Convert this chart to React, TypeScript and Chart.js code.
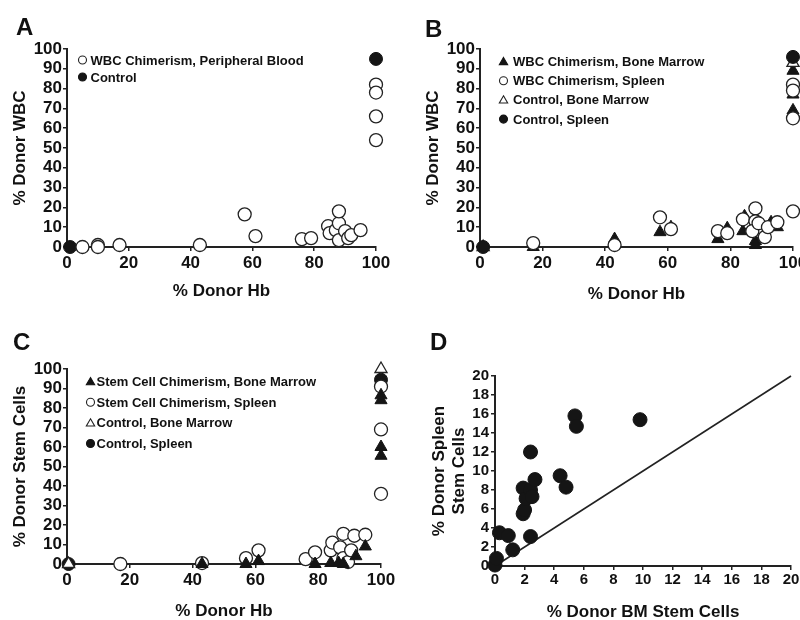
import React, { useEffect, useRef } from 'react';
import { Chart, registerables } from 'chart.js';

Chart.register(...registerables);
Chart.defaults.font.family = "'Liberation Sans', Arial, Helvetica, sans-serif";
Chart.defaults.color = '#111';

// ---------- Panel A: % Donor WBC (peripheral blood) vs % Donor Hb ----------
const aLabels = ['WBC Chimerism, Peripheral Blood', 'Control'];
const aBloodX = [5, 10, 10, 17, 43, 57.5, 61, 76, 79, 84.5, 85, 87, 88, 88, 88, 90, 91, 92, 95, 100, 100, 100, 100];
const aBloodY = [0, 1, 0, 1, 1, 16.5, 5.5, 4, 4.5, 10.5, 7, 8.5, 12, 18, 3.5, 8, 4.5, 6, 8.5, 82, 78, 66, 54];
const aCtrlX = [1, 100];
const aCtrlY = [0, 95];

// ---------- Panel B: % Donor WBC (BM / spleen) vs % Donor Hb ----------
const bLabels = ['WBC Chimerism, Bone Marrow', 'WBC Chimerism, Spleen', 'Control, Bone Marrow', 'Control, Spleen'];
const bMarrowX = [17, 43, 57.5, 61, 76, 79, 84, 84.5, 88, 88, 93, 95, 100, 100, 100];
const bMarrowY = [0, 4, 7.5, 10, 4, 9.5, 8, 15.5, 3, 1, 12.5, 10, 89, 77, 69];
const bSpleenX = [17, 43, 57.5, 61, 76, 79, 84, 88, 88, 87, 89, 91, 92, 95, 100, 100, 100, 100];
const bSpleenY = [2, 1, 15, 9, 8, 7, 14, 19.5, 13, 8, 12, 5, 10, 12.5, 18, 82, 79, 65];
const bCtrlMarrowX = [1, 100];
const bCtrlMarrowY = [0, 93];
const bCtrlSpleenX = [1, 100];
const bCtrlSpleenY = [0, 96];

// ---------- Panel C: % Donor Stem Cells vs % Donor Hb ----------
const cLabels = ['Stem Cell Chimerism, Bone Marrow', 'Stem Cell Chimerism, Spleen', 'Control, Bone Marrow', 'Control, Spleen'];
const cMarrowX = [43, 57, 61, 79, 84, 86.5, 88, 92, 95, 100, 100, 100, 100];
const cMarrowY = [0, 0, 1.5, 0, 0.5, 0.5, 0, 4, 9, 86.5, 84, 60, 55.5];
const cSpleenX = [17, 43, 57, 61, 76, 79, 84, 84.5, 87, 88, 88, 89.5, 90.5, 91.5, 95, 100, 100, 100];
const cSpleenY = [0, 0.5, 3, 7, 2.5, 6, 7, 11, 8.5, 15.5, 3, 1, 7, 14.5, 15, 91, 69, 36];
const cCtrlMarrowX = [0.5, 100];
const cCtrlMarrowY = [0, 100];
const cCtrlSpleenX = [0.5, 100];
const cCtrlSpleenY = [0, 94.5];

// ---------- Panel D: spleen vs BM stem cells ----------
const dBmX = [0, 0.1, 0.3, 0.9, 1.2, 1.9, 1.9, 2.0, 2.1, 2.4, 2.4, 2.5, 2.7, 2.4, 4.4, 4.8, 5.4, 5.5, 9.8];
const dSpleenY = [0.1, 0.8, 3.5, 3.2, 1.7, 8.2, 5.5, 5.9, 7.1, 12.0, 8.0, 7.3, 9.1, 3.1, 9.5, 8.3, 15.8, 14.7, 15.4];
const dLineX = [0, 20];
const dLineY = [0, 20];

// ---------- helpers ----------
const FONT = "'Liberation Sans', Arial, Helvetica, sans-serif";
const pts = (xs: number[], ys: number[]) => xs.map((x, i) => ({ x, y: ys[i] }));

const openCircle = { pointStyle: 'circle', backgroundColor: '#ffffff', borderColor: '#222', borderWidth: 1.3, pointRadius: 6.5, clip: false };
const filledCircle = { pointStyle: 'circle', backgroundColor: '#151515', borderColor: '#151515', borderWidth: 1, pointRadius: 6.5, clip: false };
const filledTri = { pointStyle: 'triangle', backgroundColor: '#151515', borderColor: '#151515', borderWidth: 1, pointRadius: 7, clip: false };
const openTri = { pointStyle: 'triangle', backgroundColor: '#ffffff', borderColor: '#222', borderWidth: 1.3, pointRadius: 7, clip: false };

function drawMarker(ctx: CanvasRenderingContext2D, style: string, x: number, y: number, r: number, fill: string, stroke: string) {
  ctx.beginPath();
  if (style === 'triangle') {
    const R = r * 1.2;
    for (let k = 0; k < 3; k++) {
      const a = (k * 2 * Math.PI) / 3;
      const px = x + Math.sin(a) * R;
      const py = y - Math.cos(a) * R + R * 0.15;
      if (k === 0) ctx.moveTo(px, py); else ctx.lineTo(px, py);
    }
    ctx.closePath();
  } else {
    ctx.arc(x, y, r, 0, Math.PI * 2);
  }
  ctx.fillStyle = fill;
  ctx.fill();
  ctx.lineWidth = 1.1;
  ctx.strokeStyle = stroke;
  ctx.stroke();
}

const annotPlugin = {
  id: 'annot',
  afterDraw(chart: any, _args: any, opts: any) {
    const ctx: CanvasRenderingContext2D = chart.ctx;
    const { left, top } = chart.chartArea;
    ctx.save();
    if (opts.letter) {
      ctx.font = `bold 24px ${FONT}`;
      ctx.fillStyle = '#111';
      ctx.textBaseline = 'alphabetic';
      ctx.textAlign = 'left';
      ctx.fillText(opts.letter, opts.letterX, opts.letterY);
    }
    if (opts.legend) {
      const lg = opts.legend;
      ctx.font = `bold 13px ${FONT}`;
      ctx.textBaseline = 'middle';
      ctx.textAlign = 'left';
      chart.data.datasets.forEach((ds: any, i: number) => {
        if (!ds.label) return;
        const cx = left + lg.dx;
        const cy = top + lg.dy + i * lg.row;
        drawMarker(ctx, ds.pointStyle, cx, cy, 4, ds.backgroundColor, ds.borderColor);
        ctx.fillStyle = '#111';
        ctx.fillText(ds.label, cx + lg.textDx, cy + 1);
      });
    }
    ctx.restore();
  },
};

function axis(o: any) {
  return {
    type: 'linear',
    position: o.isX ? 'bottom' : 'left',
    min: o.min,
    max: o.max,
    ticks: {
      stepSize: o.step,
      autoSkip: false,
      maxRotation: 0,
      color: '#111',
      padding: o.tickPad,
      font: { size: o.tickSize, weight: 'bold', family: FONT },
    },
    grid: { drawOnChartArea: false, drawTicks: true, tickLength: 4, color: '#222', lineWidth: 1.5 },
    border: { display: true, color: '#222', width: 2 },
    title: {
      display: true,
      text: o.title,
      color: '#111',
      font: { size: 17, weight: 'bold', family: FONT, lineHeight: o.titleLH || 1.2 },
      padding: o.isX ? { top: 0, bottom: o.titlePad } : { top: o.titlePad, bottom: 0 },
    },
    afterFit: (s: any) => {
      if (o.isX) s.height = o.size; else s.width = o.size;
    },
  };
}

function buildConfig(p: any) {
  return {
    type: 'scatter',
    data: { datasets: p.datasets },
    options: {
      responsive: false,
      animation: false,
      events: [],
      layout: { padding: p.padding },
      plugins: { legend: { display: false }, tooltip: { enabled: false }, annot: p.annot },
      scales: { x: axis(p.x), y: axis(p.y) },
    },
    plugins: [annotPlugin],
  };
}

const configA = buildConfig({
  padding: { top: 49, right: 24, left: 0, bottom: 0 },
  datasets: [
    { label: aLabels[0], data: pts(aBloodX, aBloodY), ...openCircle },
    { label: aLabels[1], data: pts(aCtrlX, aCtrlY), ...filledCircle },
  ],
  x: { isX: true, min: 0, max: 100, step: 20, tickPad: 2, tickSize: 17, title: '% Donor Hb', titlePad: 8, size: 63 },
  y: { isX: false, min: 0, max: 100, step: 10, tickPad: 1, tickSize: 17, title: '% Donor WBC', titlePad: 10, size: 67 },
  annot: { letter: 'A', letterX: 16, letterY: 35, legend: { dx: 15.5, dy: 11, row: 17, textDx: 8 } },
});

const configB = buildConfig({
  padding: { top: 49, right: 47, left: 0, bottom: 0 },
  datasets: [
    { label: bLabels[0], data: pts(bMarrowX, bMarrowY), ...filledTri, order: 3 },
    { label: bLabels[1], data: pts(bSpleenX, bSpleenY), ...openCircle, order: 2 },
    { label: bLabels[2], data: pts(bCtrlMarrowX, bCtrlMarrowY), ...openTri, order: 1 },
    { label: bLabels[3], data: pts(bCtrlSpleenX, bCtrlSpleenY), ...filledCircle, order: 0 },
  ],
  x: { isX: true, min: 0, max: 100, step: 20, tickPad: 2, tickSize: 17, title: '% Donor Hb', titlePad: 5, size: 63 },
  y: { isX: false, min: 0, max: 100, step: 10, tickPad: 1, tickSize: 17, title: '% Donor WBC', titlePad: 23, size: 80 },
  annot: { letter: 'B', letterX: 25, letterY: 37, legend: { dx: 23.5, dy: 12.5, row: 19.2, textDx: 9.5 } },
});

const configC = buildConfig({
  padding: { top: 59, right: 19, left: 0, bottom: 0 },
  datasets: [
    { label: cLabels[0], data: pts(cMarrowX, cMarrowY), ...filledTri },
    { label: cLabels[1], data: pts(cSpleenX, cSpleenY), ...openCircle },
    { label: cLabels[2], data: pts(cCtrlMarrowX, cCtrlMarrowY), ...openTri },
    { label: cLabels[3], data: pts(cCtrlSpleenX, cCtrlSpleenY), ...filledCircle },
  ],
  x: { isX: true, min: 0, max: 100, step: 20, tickPad: 2, tickSize: 17, title: '% Donor Hb', titlePad: 8, size: 66 },
  y: { isX: false, min: 0, max: 100, step: 10, tickPad: 1, tickSize: 17, title: '% Donor Stem Cells', titlePad: 10, size: 67 },
  annot: { letter: 'C', letterX: 13, letterY: 40, legend: { dx: 23.5, dy: 12.7, row: 20.6, textDx: 6 } },
});

const configD = buildConfig({
  padding: { top: 66, right: 29, left: 0, bottom: 0 },
  datasets: [
    { data: pts(dBmX, dSpleenY), ...filledCircle, pointRadius: 7 },
    { data: pts(dLineX, dLineY), showLine: true, pointRadius: 0, borderColor: '#222', borderWidth: 1.6, clip: false },
  ],
  x: { isX: true, min: 0, max: 20, step: 2, tickPad: 1, tickSize: 15, title: '% Donor BM Stem Cells', titlePad: 7, size: 64 },
  y: { isX: false, min: 0, max: 20, step: 2, tickPad: 2, tickSize: 15, title: ['% Donor Spleen', 'Stem Cells'], titlePad: 30, titleLH: 1.15, size: 95 },
  annot: { letter: 'D', letterX: 30, letterY: 40 },
});

function Panel({ left, top, width, height, config }: any) {
  const ref = useRef<HTMLCanvasElement | null>(null);
  useEffect(() => {
    if (!ref.current) return;
    const chart = new Chart(ref.current, config);
    return () => chart.destroy();
  }, [config]);
  return (
    <canvas
      ref={ref}
      width={width}
      height={height}
      style={{ position: 'absolute', left, top, width, height }}
    />
  );
}

export default function App() {
  return (
    <div
      style={{
        position: 'absolute',
        left: 0,
        top: 0,
        width: 800,
        height: 620,
        overflow: 'hidden',
        background: '#ffffff',
      }}
    >
      <Panel left={0} top={0} width={400} height={310} config={configA} />
      <Panel left={400} top={0} width={440} height={310} config={configB} />
      <Panel left={0} top={310} width={400} height={320} config={configC} />
      <Panel left={400} top={310} width={420} height={320} config={configD} />
    </div>
  );
}
